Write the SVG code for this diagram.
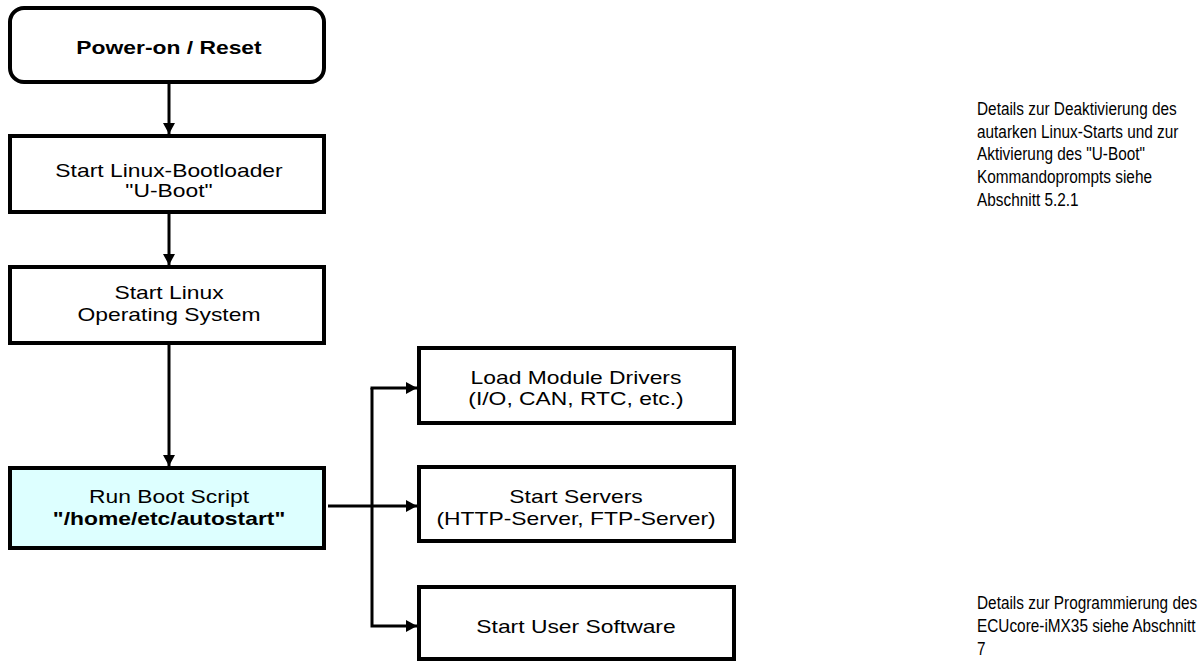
<svg xmlns="http://www.w3.org/2000/svg" width="1200" height="661" viewBox="0 0 1200 661">
<style>
.box{fill:#fff;stroke:#000;stroke-width:4}
.t{font-family:"Liberation Sans",Arial,sans-serif;font-size:18px;fill:#000;text-anchor:middle}
.b{font-weight:bold}
.n{font-family:"Liberation Sans",Arial,sans-serif;font-size:18.5px;fill:#000}
.c{fill:none;stroke:#000;stroke-width:3}
</style>
<defs>
<marker id="ah" markerWidth="11" markerHeight="12" refX="11" refY="6" orient="auto" markerUnits="userSpaceOnUse" viewBox="0 0 11 12">
<path d="M0,0 L11,6 L0,12 z" fill="#000"/>
</marker>
</defs>
<rect width="1200" height="661" fill="#fff"/>
<g id="connectors">
<line class="c" x1="169" y1="84" x2="169" y2="134" marker-end="url(#ah)"/>
<line class="c" x1="169" y1="214" x2="169" y2="265" marker-end="url(#ah)"/>
<line class="c" x1="169" y1="345" x2="169" y2="466" marker-end="url(#ah)"/>
<line class="c" x1="328" y1="506" x2="417" y2="506" marker-end="url(#ah)"/>
<path class="c" d="M372,388 V626 H417" marker-end="url(#ah)"/>
<line class="c" x1="370.5" y1="388" x2="417" y2="388" marker-end="url(#ah)"/>
</g>
<g id="power">
<rect class="box" x="10" y="8" width="314" height="74" rx="14"/>
<text class="t b" transform="translate(169 53.5) scale(1.27 1)">Power-on / Reset</text>
</g>
<g id="uboot">
<rect class="box" x="10" y="136" width="314" height="76"/>
<text class="t" transform="translate(169 176.5) scale(1.27 1)">Start Linux-Bootloader</text>
<text class="t" transform="translate(169 196.5) scale(1.27 1)">"U-Boot"</text>
</g>
<g id="linux">
<rect class="box" x="10" y="267" width="314" height="76"/>
<text class="t" transform="translate(169 298.5) scale(1.27 1)">Start Linux</text>
<text class="t" transform="translate(169 320.5) scale(1.27 1)">Operating System</text>
</g>
<g id="bootscript">
<rect class="box" x="10" y="468" width="314" height="80" style="fill:#ddffff"/>
<text class="t" transform="translate(169 502.5) scale(1.27 1)">Run Boot Script</text>
<text class="t b" transform="translate(169 524.5) scale(1.27 1)">"/home/etc/autostart"</text>
</g>
<g id="drivers">
<rect class="box" x="419" y="348" width="315" height="75"/>
<text class="t" transform="translate(576 383.5) scale(1.27 1)">Load Module Drivers</text>
<text class="t" transform="translate(576 404.5) scale(1.27 1)">(I/O, CAN, RTC, etc.)</text>
</g>
<g id="servers">
<rect class="box" x="419" y="467" width="315" height="74"/>
<text class="t" transform="translate(576 502.5) scale(1.27 1)">Start Servers</text>
<text class="t" transform="translate(576 524.5) scale(1.27 1)">(HTTP-Server, FTP-Server)</text>
</g>
<g id="user">
<rect class="box" x="419" y="587" width="315" height="72"/>
<text class="t" transform="translate(576 632.5) scale(1.27 1)">Start User Software</text>
</g>
<g id="note1">
<text class="n" transform="translate(977 115) scale(0.83 1)">Details zur Deaktivierung des</text>
<text class="n" transform="translate(977 138) scale(0.83 1)">autarken Linux-Starts und zur</text>
<text class="n" transform="translate(977 160) scale(0.83 1)">Aktivierung des "U-Boot"</text>
<text class="n" transform="translate(977 183) scale(0.83 1)">Kommandoprompts siehe</text>
<text class="n" transform="translate(977 206) scale(0.83 1)">Abschnitt 5.2.1</text>
</g>
<g id="note2">
<text class="n" transform="translate(977 609) scale(0.83 1)">Details zur Programmierung des</text>
<text class="n" transform="translate(977 632) scale(0.83 1)">ECUcore-iMX35 siehe Abschnitt</text>
<text class="n" transform="translate(977 655) scale(0.83 1)">7</text>
</g>
</svg>
